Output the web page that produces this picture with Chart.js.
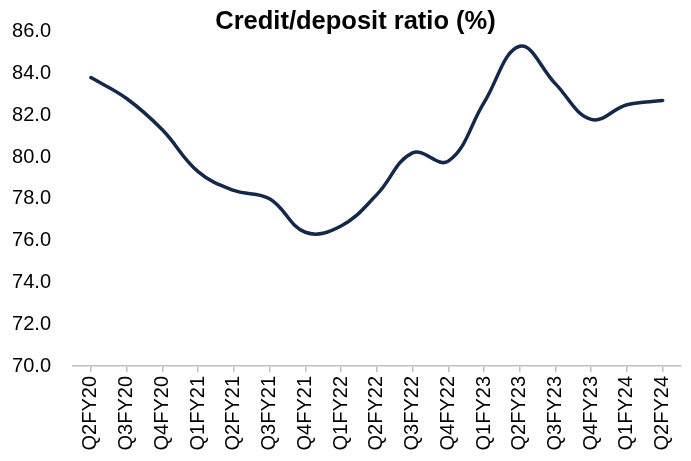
<!DOCTYPE html>
<html>
<head>
<meta charset="utf-8">
<script src="https://cdn.jsdelivr.net/npm/chart.js@4"></script>
<style>
  html, body { margin: 0; padding: 0; background: #fff; }
  #wrap { width: 691px; height: 461px; }
</style>
</head>
<body>
<div id="wrap"><canvas id="cdChart" width="691" height="461"></canvas></div>
<script>
  // quarters on the x axis
  const quarters = ['Q2FY20', 'Q3FY20', 'Q4FY20', 'Q1FY21', 'Q2FY21', 'Q3FY21', 'Q4FY21', 'Q1FY22',
    'Q2FY22', 'Q3FY22', 'Q4FY22', 'Q1FY23', 'Q2FY23', 'Q3FY23', 'Q4FY23', 'Q1FY24', 'Q2FY24'];

  // credit/deposit ratio, %
  const cdRatio = [83.8, 82.8, 81.3, 79.3, 78.4, 78.0, 76.4, 76.7,
    78.2, 80.2, 79.8, 82.6, 85.3, 83.5, 81.8, 82.5, 82.7];

  const yMin = 70, yMax = 86, yStep = 2;

  const fontFamily = 'Liberation Sans, Arial, sans-serif';
  const ctx = document.getElementById('cdChart');

  // centre the title a little right of the canvas middle
  const titleShift = {
    id: 'titleShift',
    afterLayout(chart) {
      if (chart.titleBlock) chart.titleBlock.left = 30;
    }
  };

  new Chart(ctx, {
    type: 'line',
    data: {
      labels: quarters,
      datasets: [{
        label: 'Credit/deposit ratio (%)',
        data: cdRatio,
        borderColor: '#13284a',
        borderWidth: 3.5,
        borderCapStyle: 'round',
        pointRadius: 0,
        tension: 0.4,
        fill: false
      }]
    },
    plugins: [titleShift],
    options: {
      responsive: false,
      animation: false,
      layout: { padding: { left: 0, right: 10, top: 0, bottom: 0 } },
      plugins: {
        legend: { display: false },
        tooltip: { enabled: false },
        title: {
          display: true,
          text: 'Credit/deposit ratio (%)',
          color: '#000',
          font: { family: fontFamily, size: 25.5, weight: 'bold', lineHeight: 1.2 },
          // title sits partly beside the top of the plot
          padding: { top: 7, bottom: -6 }
        }
      },
      scales: {
        x: {
          offset: true,
          grid: {
            drawOnChartArea: false,
            drawTicks: true,
            tickLength: 6,
            color: '#bfbfbf',
            lineWidth: 1.5
          },
          border: { display: true, color: '#bfbfbf', width: 1.5 },
          ticks: {
            autoSkip: false,
            minRotation: 90,
            maxRotation: 90,
            padding: 4,
            color: '#000',
            font: { family: fontFamily, size: 20 }
          },
          afterFit: (scale) => { scale.height = 95; }
        },
        y: {
          min: yMin,
          max: yMax,
          grid: { display: false },
          border: { display: false },
          ticks: {
            stepSize: yStep,
            padding: 14,
            color: '#000',
            font: { family: fontFamily, size: 20 },
            callback: (v) => v.toFixed(1)
          },
          afterFit: (scale) => { scale.width = 73; }
        }
      }
    }
  });
</script>
</body>
</html>
